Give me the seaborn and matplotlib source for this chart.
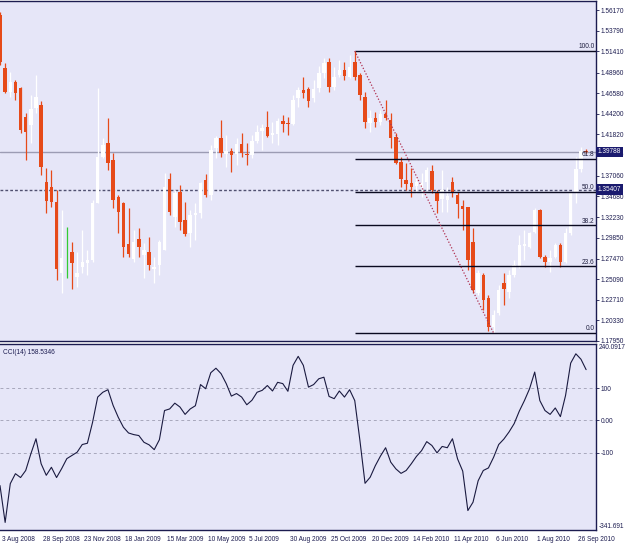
import numpy as np
import pandas as pd
import matplotlib
matplotlib.use("Agg")
import matplotlib.pyplot as plt
import matplotlib.transforms as mtransforms
import seaborn as sns

# weekly EURUSD bars (index 0 = week of 3 Aug 2008)
opens = [1.5563, 1.4950, 1.4672, 1.4788, 1.4719, 1.4383, 1.4291, 1.4488, 1.4522, 1.3632,
         1.3574, 1.3401, 1.2580, 1.2765, 1.2823, 1.2534, 1.2649, 1.2696, 1.2730, 1.3389,
         1.3921, 1.4083, 1.3886, 1.3459, 1.3389, 1.2915, 1.2742, 1.2973, 1.2788, 1.2823,
         1.2626, 1.2673, 1.2846, 1.3667, 1.3228, 1.3516, 1.3193, 1.3043, 1.3251, 1.3274,
         1.3655, 1.3482, 1.4025, 1.4141, 1.3956, 1.3990, 1.3956, 1.4071, 1.3956, 1.3944,
         1.4106, 1.4222, 1.4268, 1.4175, 1.4187, 1.4337, 1.4314, 1.4303, 1.4603, 1.4696,
         1.4707, 1.4603, 1.4719, 1.4892, 1.5019, 1.4730, 1.4869, 1.4927, 1.4846, 1.5019,
         1.4869, 1.4615, 1.4314, 1.4372, 1.4326, 1.4418, 1.4349, 1.4152, 1.3863, 1.3655,
         1.3621, 1.3586, 1.3574, 1.3632, 1.3759, 1.3505, 1.3436, 1.3424, 1.3632, 1.3482,
         1.3355, 1.3343, 1.2939, 1.2349, 1.2557, 1.2291, 1.1956, 1.2118, 1.2465, 1.2360,
         1.2557, 1.2649, 1.2892, 1.2881, 1.3054, 1.3308, 1.2765, 1.2707, 1.2765, 1.2904,
         1.2707, 1.3043, 1.3505, 1.3782, 1.3990]
highs = [1.5597, 1.5008, 1.4904, 1.4811, 1.4730, 1.4430, 1.4638, 1.4869, 1.4568, 1.3794,
         1.3771, 1.3540, 1.3308, 1.3112, 1.2939, 1.2823, 1.3077, 1.2846, 1.3424, 1.4719,
         1.4141, 1.4372, 1.3967, 1.3482, 1.3401, 1.3332, 1.3077, 1.3100, 1.2927, 1.2996,
         1.2765, 1.2962, 1.3736, 1.3736, 1.3540, 1.3597, 1.3401, 1.3308, 1.3389, 1.3632,
         1.3725, 1.4060, 1.4164, 1.4349, 1.4175, 1.4025, 1.4141, 1.4199, 1.4083, 1.4175,
         1.4291, 1.4303, 1.4453, 1.4326, 1.4372, 1.4407, 1.4383, 1.4638, 1.4730, 1.4846,
         1.4730, 1.4811, 1.4973, 1.5066, 1.5066, 1.4961, 1.5042, 1.5019, 1.5100, 1.5146,
         1.4892, 1.4672, 1.4464, 1.4441, 1.4464, 1.4580, 1.4430, 1.4199, 1.3921, 1.3852,
         1.3794, 1.3690, 1.3736, 1.3806, 1.3829, 1.3540, 1.3771, 1.3574, 1.3690, 1.3516,
         1.3424, 1.3343, 1.3100, 1.2615, 1.2580, 1.2326, 1.2152, 1.2441, 1.2580, 1.2615,
         1.2730, 1.3019, 1.3077, 1.3054, 1.3332, 1.3320, 1.2788, 1.2846, 1.2927, 1.2927,
         1.3100, 1.3516, 1.3921, 1.4037, 1.4013]
lows = [1.4985, 1.4661, 1.4615, 1.4580, 1.4198, 1.3886, 1.4083, 1.4430, 1.3713, 1.3274,
        1.3343, 1.2499, 1.2349, 1.2522, 1.2395, 1.2418, 1.2580, 1.2557, 1.2707, 1.3389,
        1.3909, 1.3771, 1.3332, 1.3043, 1.2765, 1.2765, 1.2707, 1.2765, 1.2522, 1.2615,
        1.2465, 1.2557, 1.2846, 1.3251, 1.3112, 1.3077, 1.3008, 1.2881, 1.2962, 1.3216,
        1.3459, 1.3424, 1.3909, 1.3921, 1.3806, 1.3748, 1.3829, 1.3921, 1.3829, 1.3909,
        1.4083, 1.4002, 1.4152, 1.4083, 1.4060, 1.4210, 1.4175, 1.4291, 1.4499, 1.4603,
        1.4499, 1.4557, 1.4672, 1.4834, 1.4672, 1.4696, 1.4846, 1.4811, 1.4834, 1.4811,
        1.4580, 1.4256, 1.4210, 1.4268, 1.4291, 1.4349, 1.4025, 1.3840, 1.3574, 1.3540,
        1.3459, 1.3505, 1.3459, 1.3540, 1.3505, 1.3274, 1.3285, 1.3285, 1.3459, 1.3216,
        1.3077, 1.2615, 1.2349, 1.2326, 1.2152, 1.1910, 1.1886, 1.2095, 1.2210, 1.2291,
        1.2534, 1.2638, 1.2730, 1.2869, 1.3043, 1.2754, 1.2649, 1.2592, 1.2754, 1.2649,
        1.2696, 1.3019, 1.3389, 1.3748, 1.3967]
closes = [1.5019, 1.4672, 1.4788, 1.4661, 1.4233, 1.4210, 1.4476, 1.4615, 1.3806, 1.3413,
          1.3401, 1.2626, 1.2754, 1.2765, 1.2696, 1.2580, 1.2707, 1.2730, 1.3389, 1.3921,
          1.4060, 1.3852, 1.3424, 1.3285, 1.2881, 1.2800, 1.2939, 1.2881, 1.2846, 1.2673,
          1.2649, 1.2939, 1.3574, 1.3285, 1.3505, 1.3170, 1.3031, 1.3251, 1.3274, 1.3621,
          1.3482, 1.4002, 1.4141, 1.3967, 1.3990, 1.3944, 1.4071, 1.3967, 1.3944, 1.4106,
          1.4210, 1.4256, 1.4164, 1.4199, 1.4337, 1.4303, 1.4303, 1.4580, 1.4696, 1.4661,
          1.4568, 1.4707, 1.4892, 1.5008, 1.4730, 1.4846, 1.4927, 1.4857, 1.4961, 1.4846,
          1.4638, 1.4326, 1.4372, 1.4326, 1.4418, 1.4372, 1.4141, 1.3852, 1.3667, 1.3609,
          1.3574, 1.3632, 1.3621, 1.3771, 1.3540, 1.3413, 1.3540, 1.3470, 1.3505, 1.3378,
          1.3320, 1.2730, 1.2384, 1.2580, 1.2268, 1.1956, 1.2095, 1.2384, 1.2395, 1.2557,
          1.2673, 1.2904, 1.2915, 1.3043, 1.3308, 1.2765, 1.2707, 1.2754, 1.2904, 1.2707,
          1.3043, 1.3505, 1.3782, 1.3990, 1.3979]

cci = [-203, -318, -197, -166, -178, -156, -104, -57, -135, -171,
       -146, -178, -150, -119, -109, -99, -75, -71, -6, 73,
       88, 96, 47, 10, -21, -39, -44, -47, -68, -76,
       -91, -60, 31, 36, 54, 42, 19, 36, 46, 112,
       99, 149, 163, 146, 115, 76, 84, 73, 49, 63,
       88, 94, 109, 92, 119, 115, 91, 172, 200, 172,
       104, 112, 130, 135, 75, 68, 92, 73, 96, 62,
       -62, -196, -177, -141, -111, -85, -130, -151, -165, -156,
       -135, -112, -94, -66, -78, -101, -81, -85, -57, -120,
       -158, -281, -255, -188, -156, -148, -115, -75, -58, -36,
       -10, 29, 62, 99, 151, 62, 31, 19, 39, 12,
       78, 179, 208, 191, 158.5346]

price_ticks = [1.56170, 1.53790, 1.51410, 1.48960, 1.46580, 1.44200, 1.41820, 1.39440,
               1.37060, 1.34680, 1.32230, 1.29850, 1.27470, 1.25090, 1.22710, 1.20330, 1.17950]
date_ticks = [0, 8, 16, 24, 32, 40, 48, 56, 64, 72, 80, 88, 96, 104, 112]
date_labels = ["3 Aug 2008", "28 Sep 2008", "23 Nov 2008", "18 Jan 2009", "15 Mar 2009",
               "10 May 2009", "5 Jul 2009", "30 Aug 2009", "25 Oct 2009", "20 Dec 2009",
               "14 Feb 2010", "11 Apr 2010", "6 Jun 2010", "1 Aug 2010", "26 Sep 2010"]
fib_ratios = [0.0, 23.6, 38.2, 50.0, 61.8, 100.0]
fib_hi_bar, fib_lo_bar = 69, 96
bid = 1.39788
level_line = 1.35407

sns.set_style("white")
plt.rcParams["font.family"] = ["Liberation Sans", "DejaVu Sans"]

BG = "#E6E6F8"
NAVY = "#1C1C50"
BEAR = "#E64A19"
FS = 4.7

df = pd.DataFrame({"open": opens, "high": highs, "low": lows, "close": closes})
df["idx"] = np.arange(len(df))
df["colour"] = np.where(df.close > df.open, "white",
                        np.where(df.close < df.open, BEAR, "#33CC33"))

fig = plt.figure(figsize=(6.25, 5.43), dpi=100)
fig.patch.set_facecolor("white")
ax = fig.add_axes([0.0, 0.3711, 0.9536, 0.6271])
ax2 = fig.add_axes([0.0, 0.0239, 0.9536, 0.3435], sharex=ax)
for a in (ax, ax2):
    a.set_facecolor(BG)
    for s in a.spines.values():
        s.set_color(NAVY)
        s.set_linewidth(1.0)
    a.spines["left"].set_visible(False)

# candles
ax.vlines(df.idx, df.low, df.high, colors=df.colour, linewidth=0.9, zorder=3)
body = (df.close - df.open).abs().clip(lower=0.0005)
ax.bar(df.idx, body, bottom=df[["open", "close"]].min(axis=1), width=0.68,
       color=df.colour, linewidth=0, zorder=4)

# price lines
ax.axhline(bid, color="#9C9CB4", lw=1.0, zorder=2)
ax.axhline(level_line, color="#505070", lw=1.0, ls=(0, (2, 1.5)), zorder=2)

# fibonacci retracement
hi = df.high[fib_hi_bar]
lo = df.low[fib_lo_bar]
x_right = 597 / 5.15
for r in fib_ratios:
    lv = lo + (hi - lo) * r / 100
    ax.hlines(lv, fib_hi_bar, x_right, color="#0A0A20", lw=1.0, zorder=5)
    ax.text(x_right - 0.3, lv + 0.0008, f"{r:.1f}", ha="right", va="bottom",
            fontsize=FS, color="#202040", zorder=6)
ax.plot([fib_hi_bar, fib_lo_bar], [hi, lo], color="#B03050", lw=0.9, ls=(0, (1, 1.5)), zorder=6)

ax.set_xlim(1 / 5.15, x_right)
ax.set_ylim(1.1788, 1.5724)
ax.yaxis.tick_right()
ax.set_yticks(price_ticks)
ax.set_yticklabels([f"{t:.5f}" for t in price_ticks])
ax.tick_params(axis="y", length=2.5, width=0.6, pad=1.0, labelsize=FS,
               colors=NAVY, direction="out")
ax.tick_params(axis="x", length=0, labelbottom=False)

btrans = mtransforms.blended_transform_factory(ax.transAxes, ax.transData)
for v in (bid, level_line):
    ax.text(1.003, v, f"{v:.5f}", transform=btrans, ha="left", va="center",
            fontsize=FS, color="white", clip_on=False, zorder=10,
            bbox=dict(boxstyle="square,pad=0.3", fc="#1A1A6E", ec="none"))

# CCI panel
sns.lineplot(x=df.idx, y=cci, ax=ax2, color="#1A1A40", lw=0.8)
for g in (100, 0, -100):
    ax2.axhline(g, color="#A8A8BC", lw=0.7, ls=(0, (3, 3)), zorder=1)
ax2.set_ylim(-341.691, 240.0917)
ax2.yaxis.tick_right()
ax2.set_yticks([100, 0, -100])
ax2.set_yticklabels(["100", "0.00", "-100"])
ax2.tick_params(axis="y", length=2.5, width=0.6, pad=1.0, labelsize=FS,
                colors=NAVY, direction="out")
ax2.set_ylabel("")
ax2.set_xlabel("")
t2 = mtransforms.blended_transform_factory(ax2.transAxes, ax2.transData)
ax2.text(1.005, 240.0917, "240.0917", transform=t2, ha="left", va="top",
         fontsize=FS, color=NAVY, clip_on=False)
ax2.text(1.005, -341.691, "-341.691", transform=t2, ha="left", va="bottom",
         fontsize=FS, color=NAVY, clip_on=False)
ax2.text(0.005, 0.97, f"CCI(14) {cci[-1]:.4f}", transform=ax2.transAxes,
         ha="left", va="top", fontsize=FS, color=NAVY)

ax2.set_xticks(date_ticks)
ax2.set_xticklabels(date_labels)
ax2.tick_params(axis="x", length=4, width=0.6, pad=0.5, labelsize=FS,
                colors=NAVY, direction="out")
shift = mtransforms.ScaledTranslation(2 / 100, 0, fig.dpi_scale_trans)
for lab in ax2.get_xticklabels():
    lab.set_ha("left")
    lab.set_transform(lab.get_transform() + shift)

fig.savefig("out.png", dpi=100, facecolor="white")
